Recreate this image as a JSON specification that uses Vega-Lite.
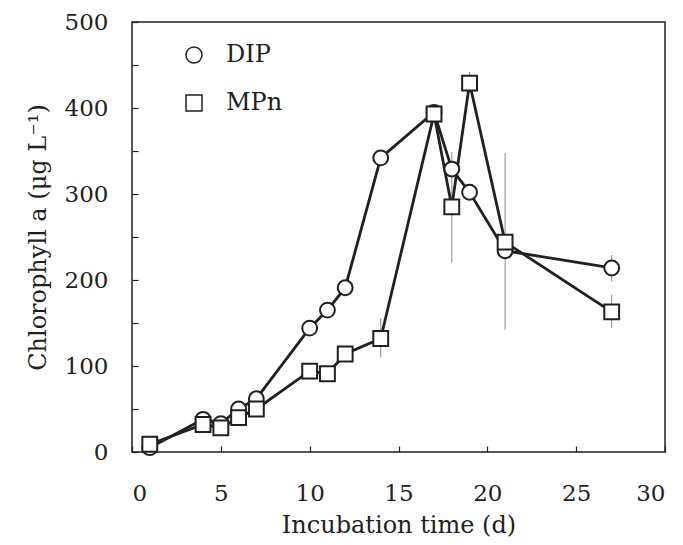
{
  "$schema": "https://vega.github.io/schema/vega-lite/v6.json",
  "width": 533,
  "height": 430,
  "autosize": "none",
  "padding": {"left": 132, "top": 22, "right": 18, "bottom": 93},
  "background": "white",
  "config": {
    "view": {"stroke": "#231f20", "strokeWidth": 1.5},
    "font": "DejaVu Serif",
    "axis": {
      "labelFont": "DejaVu Serif",
      "titleFont": "DejaVu Serif",
      "labelFontSize": 23,
      "titleFontSize": 24,
      "titleFontWeight": "normal",
      "labelColor": "#231f20",
      "titleColor": "#231f20",
      "domain": false,
      "grid": false,
      "tickColor": "#231f20",
      "tickWidth": 1.2,
      "tickSize": -6
    },
    "legend": {"labelFont": "DejaVu Serif", "labelFontSize": 24, "labelColor": "#231f20"}
  },
  "data": {
    "values": [
      {"day": 1, "series": "DIP", "value": 5},
      {"day": 4, "series": "DIP", "value": 38},
      {"day": 5, "series": "DIP", "value": 33},
      {"day": 6, "series": "DIP", "value": 50},
      {"day": 7, "series": "DIP", "value": 62},
      {"day": 10, "series": "DIP", "value": 144},
      {"day": 11, "series": "DIP", "value": 165},
      {"day": 12, "series": "DIP", "value": 191},
      {"day": 14, "series": "DIP", "value": 342},
      {"day": 17, "series": "DIP", "value": 395},
      {"day": 18, "series": "DIP", "value": 329},
      {"day": 19, "series": "DIP", "value": 302},
      {"day": 21, "series": "DIP", "value": 234},
      {"day": 27, "series": "DIP", "value": 214, "lo": 198, "hi": 229},
      {"day": 1, "series": "MPn", "value": 9},
      {"day": 4, "series": "MPn", "value": 32},
      {"day": 5, "series": "MPn", "value": 28},
      {"day": 6, "series": "MPn", "value": 40},
      {"day": 7, "series": "MPn", "value": 50},
      {"day": 10, "series": "MPn", "value": 94},
      {"day": 11, "series": "MPn", "value": 91},
      {"day": 12, "series": "MPn", "value": 114},
      {"day": 14, "series": "MPn", "value": 132, "lo": 110, "hi": 155},
      {"day": 17, "series": "MPn", "value": 393},
      {"day": 18, "series": "MPn", "value": 285, "lo": 220, "hi": 349},
      {"day": 19, "series": "MPn", "value": 429, "lo": 418, "hi": 442},
      {"day": 21, "series": "MPn", "value": 244, "lo": 142, "hi": 348},
      {"day": 27, "series": "MPn", "value": 163, "lo": 144, "hi": 183}
    ]
  },
  "encoding": {
    "x": {
      "field": "day", "type": "quantitative",
      "scale": {"domain": [0, 30], "nice": false, "zero": false},
      "axis": {"values": [0, 5, 10, 15, 20, 25, 30], "title": "Incubation time (d)", "labelPadding": 36, "titlePadding": 8}
    }
  },
  "layer": [
    {
      "transform": [{"filter": "isValid(datum.lo)"}],
      "mark": {"type": "rule", "color": "#8a8a8a", "strokeWidth": 1},
      "encoding": {
        "y": {"field": "lo", "type": "quantitative"},
        "y2": {"field": "hi"}
      }
    },
    {
      "mark": {"type": "line", "color": "#231f20", "strokeWidth": 2.8},
      "encoding": {
        "y": {"field": "value", "type": "quantitative"},
        "detail": {"field": "series"}
      }
    },
    {
      "mark": {"type": "point", "filled": true, "fill": "white", "stroke": "#231f20", "strokeWidth": 2, "opacity": 1, "size": 220},
      "encoding": {
        "y": {
          "field": "value", "type": "quantitative",
          "scale": {"domain": [0, 500], "nice": false},
          "axis": {
            "values": [0, 50, 100, 150, 200, 250, 300, 350, 400, 450, 500],
            "labelExpr": "datum.value % 100 == 0 ? datum.label : ''",
            "title": "Chlorophyll a (μg L⁻¹)",
            "labelPadding": 30,
            "titlePadding": 14
          }
        },
        "shape": {
          "field": "series", "type": "nominal",
          "scale": {"domain": ["DIP", "MPn"], "range": ["circle", "square"]},
          "legend": {
            "title": null,
            "orient": "none",
            "legendX": 50,
            "legendY": 21,
            "padding": 0,
            "rowPadding": 24,
            "symbolSize": 256,
            "labelOffset": 20,
            "encode": {
              "symbols": {
                "update": {
                  "stroke": {"value": "#231f20"},
                  "fill": {"value": "white"},
                  "strokeWidth": {"value": 2.2},
                  "opacity": {"value": 1}
                }
              }
            }
          }
        }
      }
    }
  ]
}
